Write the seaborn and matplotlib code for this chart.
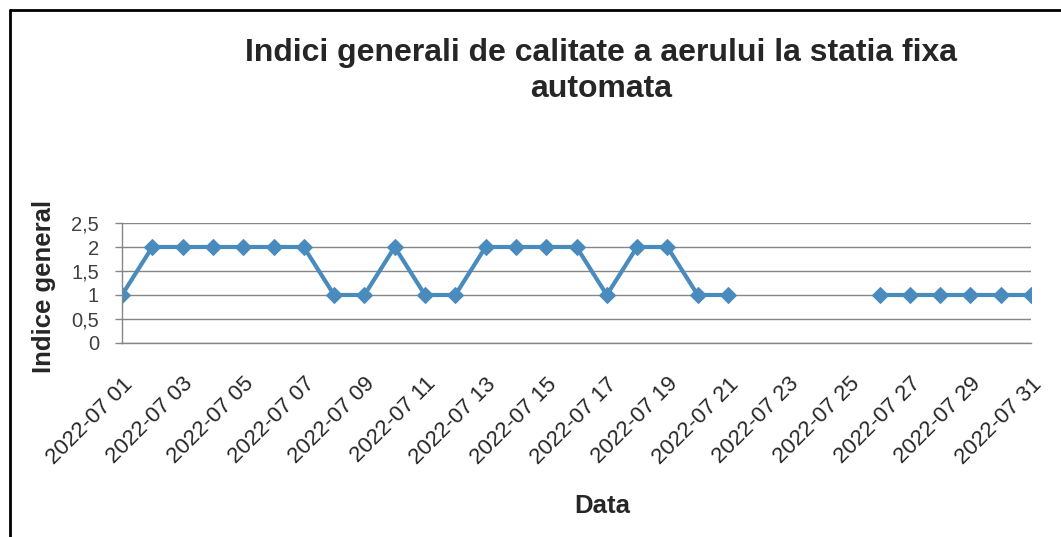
import numpy as np
import pandas as pd
import matplotlib
matplotlib.use('Agg')
import matplotlib.pyplot as plt
from matplotlib.lines import Line2D
import seaborn as sns

# Data (days 22-25 have no value)
days = list(range(1, 32))
values = [1, 2, 2, 2, 2, 2, 2, 1, 1, 2,
          1, 1, 2, 2, 2, 2, 1, 2, 2, 1,
          1, np.nan, np.nan, np.nan, np.nan, 1, 1, 1, 1, 1,
          1]
tick_days = list(range(1, 32, 2))
tick_labels = ['2022-07 %02d' % d for d in tick_days]
y_ticks = [0, 0.5, 1, 1.5, 2, 2.5]
y_tick_labels = ['0', '0,5', '1', '1,5', '2', '2,5']

df = pd.DataFrame({'Data': days, 'Indice': values})
# split into segments so the gap stays open
df['seg'] = df['Indice'].isna().cumsum()
df = df.dropna()

sns.set_style('white')
plt.rcParams['font.family'] = ['Liberation Sans', 'DejaVu Sans']

fig = plt.figure(figsize=(10.61, 5.37), dpi=100)
ax = fig.add_axes([122 / 1061, 1 - 343 / 537, 909 / 1061, 120 / 537])

sns.lineplot(data=df, x='Data', y='Indice', units='seg', estimator=None,
             color='#4A8BBE', linewidth=3, marker='D', markersize=8.5,
             markeredgecolor='#4A8BBE', ax=ax)

ax.set_xlim(1, 31)
ax.set_ylim(0, 2.5)
ax.set_yticks(y_ticks)
ax.set_yticklabels(y_tick_labels, fontsize=14.5, color='#404040')
ax.set_xticks(tick_days)
ax.set_xticklabels(tick_labels, rotation=45, ha='right', va='top',
                   rotation_mode='anchor', fontsize=16)
ax.tick_params(axis='x', length=0, pad=22)
ax.tick_params(axis='y', length=5, color='#868686', width=1, pad=11.5, left=True)

ax.grid(axis='y', color='#868686', linewidth=1)
ax.set_axisbelow(True)
for s in ['top', 'right']:
    ax.spines[s].set_visible(False)
for s in ['left', 'bottom']:
    ax.spines[s].set_color('#868686')
    ax.spines[s].set_linewidth(1)

ax.set_ylabel('Indice general', fontsize=18.5, fontweight='bold')
ax.yaxis.set_label_coords(-0.073, 0.475)
ax.set_xlabel('Data', fontsize=18.5, fontweight='bold')
ax.xaxis.set_label_coords(0.528, -1.26)

fig.text(601 / 1061, 1 - 38 / 537,
         'Indici generali de calitate a aerului la statia fixa\nautomata',
         ha='center', va='top', fontsize=23, fontweight='bold', linespacing=1.28)

# outer chart frame (left and top edges)
fig.add_artist(Line2D([10 / 1061, 10 / 1061], [0, 1 - 10 / 537],
                      color='black', linewidth=2, transform=fig.transFigure))
fig.add_artist(Line2D([10 / 1061, 1], [1 - 10 / 537, 1 - 10 / 537],
                      color='black', linewidth=2, transform=fig.transFigure))

fig.savefig('out.png', dpi=100)
